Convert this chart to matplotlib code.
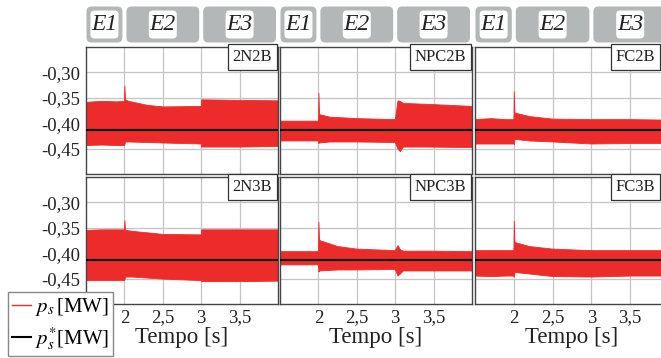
import numpy as np
import matplotlib.pyplot as plt
from matplotlib.patches import FancyBboxPatch
from matplotlib.lines import Line2D

plt.rcParams['font.family'] = ['Liberation Serif', 'DejaVu Serif']
plt.rcParams['mathtext.fontset'] = 'stix'

# ── Dados (envoltória da potência p_s) ────────────────────────────────────────
t_lim = (1.5, 4.0)
y_lim = (-0.50, -0.25)
x_ticks = [2, 2.5, 3, 3.5]
y_ticks = [-0.30, -0.35, -0.40, -0.45]
stages = ['E1', 'E2', 'E3']
stage_edges = [1.5, 2.0, 3.0, 4.0]
ps_ref = -0.413

names = [['2N2B', 'NPC2B', 'FC2B'],
         ['2N3B', 'NPC3B', 'FC3B']]

# 2N2B
t_2n2b  = [1.5, 1.7, 1.9, 1.995, 2.0, 2.008, 2.05, 2.3, 2.5, 2.995, 3.0, 3.5, 4.0]
up_2n2b = [-0.358, -0.356, -0.357, -0.356, -0.326, -0.353, -0.356, -0.364, -0.367, -0.366, -0.353, -0.354, -0.355]
lo_2n2b = [-0.443, -0.442, -0.443, -0.443, -0.441, -0.436, -0.436, -0.437, -0.438, -0.440, -0.446, -0.446, -0.445]

# NPC2B
t_npc2b  = [1.5, 1.9, 1.995, 2.0, 2.008, 2.14, 2.5, 2.995, 3.03, 3.06, 3.1, 3.43, 4.0]
up_npc2b = [-0.395, -0.395, -0.395, -0.340, -0.382, -0.387, -0.390, -0.392, -0.355, -0.356, -0.360, -0.362, -0.366]
lo_npc2b = [-0.434, -0.434, -0.434, -0.439, -0.438, -0.436, -0.436, -0.437, -0.450, -0.455, -0.446, -0.446, -0.447]

# FC2B
t_fc2b  = [1.5, 1.7, 1.9, 1.995, 2.0, 2.008, 2.2, 2.5, 3.0, 3.5, 4.0]
up_fc2b = [-0.392, -0.390, -0.392, -0.392, -0.337, -0.379, -0.386, -0.391, -0.392, -0.392, -0.393]
lo_fc2b = [-0.440, -0.440, -0.440, -0.440, -0.441, -0.431, -0.434, -0.436, -0.440, -0.439, -0.439]

# 2N3B
t_2n3b  = [1.5, 1.7, 1.9, 1.995, 2.0, 2.008, 2.1, 2.5, 2.995, 3.0, 3.5, 4.0]
up_2n3b = [-0.354, -0.353, -0.353, -0.353, -0.335, -0.354, -0.356, -0.362, -0.363, -0.353, -0.353, -0.353]
lo_2n3b = [-0.453, -0.453, -0.453, -0.453, -0.452, -0.446, -0.446, -0.450, -0.453, -0.455, -0.455, -0.454]

# NPC3B
t_npc3b  = [1.5, 1.9, 1.995, 2.0, 2.008, 2.25, 2.5, 2.995, 3.03, 3.06, 3.1, 3.5, 4.0]
up_npc3b = [-0.396, -0.396, -0.396, -0.338, -0.374, -0.386, -0.391, -0.394, -0.384, -0.392, -0.395, -0.395, -0.396]
lo_npc3b = [-0.422, -0.422, -0.422, -0.436, -0.434, -0.432, -0.432, -0.431, -0.444, -0.440, -0.434, -0.434, -0.434]

# FC3B
t_fc3b  = [1.5, 1.7, 1.9, 1.995, 2.0, 2.008, 2.2, 2.5, 3.0, 3.5, 4.0]
up_fc3b = [-0.394, -0.394, -0.394, -0.394, -0.336, -0.378, -0.386, -0.391, -0.394, -0.394, -0.394]
lo_fc3b = [-0.444, -0.445, -0.444, -0.444, -0.446, -0.437, -0.440, -0.445, -0.446, -0.444, -0.444]

envelopes = [[(t_2n2b, up_2n2b, lo_2n2b), (t_npc2b, up_npc2b, lo_npc2b), (t_fc2b, up_fc2b, lo_fc2b)],
             [(t_2n3b, up_2n3b, lo_2n3b), (t_npc3b, up_npc3b, lo_npc3b), (t_fc3b, up_fc3b, lo_fc3b)]]

# ── Layout (em pixels da imagem 661x358) ──────────────────────────────────────
W, H = 661, 358
RED = '#ed2b2b'
GRAY_HDR = '#b3b7b7'
col_x = [(86, 278), (280, 472), (475, 669)]
row_y = [(47, 174), (177, 304)]
hdr_y = (5, 44)

fig = plt.figure(figsize=(W / 100, H / 100), dpi=100)


def frac(x0, x1, y0, y1):
    return [x0 / W, 1 - y1 / H, (x1 - x0) / W, (y1 - y0) / H]


for r in range(2):
    for c in range(3):
        x0, x1 = col_x[c]
        y0, y1 = row_y[r]
        ax = fig.add_axes(frac(x0, x1, y0, y1))
        t, up, lo = envelopes[r][c]
        ax.fill_between(t, lo, up, color=RED, lw=0.6, edgecolor=RED, zorder=2)
        ax.axhline(ps_ref, color='black', lw=1.5, zorder=3)
        ax.set_xlim(*t_lim)
        ax.set_ylim(*y_lim)
        ax.set_xticks(x_ticks)
        ax.set_yticks(y_ticks)
        ax.grid(True, color='#c4c4c4', lw=0.9, zorder=0)
        ax.set_axisbelow(True)
        ax.tick_params(length=0, labelsize=13.5, pad=4, colors='#222222')
        if c == 0:
            ax.set_yticklabels([f'{v:.2f}'.replace('.', ',') for v in y_ticks])
        else:
            ax.set_yticklabels([])
        if r == 1:
            ax.set_xticklabels([f'{v:g}'.replace('.', ',') for v in x_ticks])
            ax.set_xlabel('Tempo [s]', fontsize=16.5, labelpad=0, color='#222222')
        else:
            ax.set_xticklabels([])
        for s in ax.spines.values():
            s.set_color('#444444')
            s.set_linewidth(1.0)
        # caixa com o nome do conversor (a última coluna é cortada pela borda)
        right_px = min(x1, W) - 6
        ax.text((right_px - x0) / (x1 - x0), 0.985, names[r][c], transform=ax.transAxes,
                ha='right', va='top', fontsize=12, color='#222222', zorder=5,
                bbox=dict(boxstyle='square,pad=0.3', fc='white', ec='#333333', lw=0.9))

# ── Cabeçalho com as etapas E1/E2/E3 ──────────────────────────────────────────
for c in range(3):
    x0, x1 = col_x[c]
    wpx = x1 - x0
    hpx = hdr_y[1] - hdr_y[0]
    hx = fig.add_axes(frac(x0, x1, hdr_y[0], hdr_y[1]))
    hx.set_xlim(0, wpx)
    hx.set_ylim(0, hpx)
    hx.axis('off')
    for i, lbl in enumerate(stages):
        a = (stage_edges[i] - t_lim[0]) / (t_lim[1] - t_lim[0]) * wpx
        b = (stage_edges[i + 1] - t_lim[0]) / (t_lim[1] - t_lim[0]) * wpx
        a = a + (0.5 if i == 0 else 2)
        b = b - 2
        hx.add_patch(FancyBboxPatch((a, 1.5), b - a, hpx - 3,
                                    boxstyle='round,pad=0,rounding_size=5',
                                    fc=GRAY_HDR, ec='none'))
        cx = (a + b) / 2
        hx.add_patch(FancyBboxPatch((cx - 14, 5.5), 28, hpx - 11,
                                    boxstyle='round,pad=0,rounding_size=4',
                                    fc='white', ec='none'))
        hx.text(cx, hpx / 2, lbl, ha='center', va='center', fontsize=17,
                style='italic', color='#222222')

# ── Legenda ───────────────────────────────────────────────────────────────────
handles = [Line2D([], [], color=RED, lw=1.0),
           Line2D([], [], color='black', lw=1.5)]
labels = [r'$p_s\,$[MW]', r'$p_s^{*}$[MW]']
fig.legend(handles, labels, loc='upper left', bbox_to_anchor=(8 / W, 1 - 292 / H),
           fontsize=15, frameon=True, fancybox=False, edgecolor='#888888',
           framealpha=1, handlelength=0.9, handletextpad=0.2, borderpad=0.2,
           labelspacing=0.35, borderaxespad=0)

fig.savefig('out.png', dpi=100)
